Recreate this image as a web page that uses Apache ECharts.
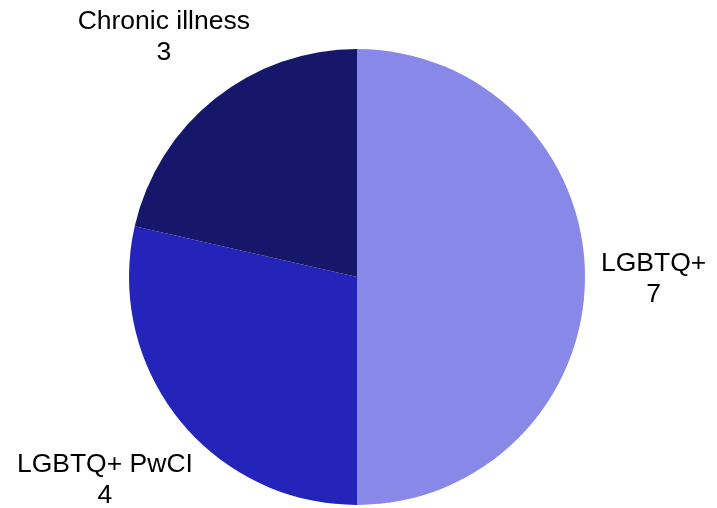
<!DOCTYPE html>
<html>
<head>
<meta charset="utf-8">
<script src="https://cdn.jsdelivr.net/npm/echarts@6/dist/echarts.min.js"></script>
<style>
  html, body { margin: 0; padding: 0; background: #fff; }
  #chart { width: 717px; height: 508px; }
</style>
</head>
<body>
<div id="chart"></div>
<script>
  const categories = ["LGBTQ+", "LGBTQ+ PwCI", "Chronic illness"];
  const values = [7, 4, 3];
  const colors = ["#8888E8", "#2424BB", "#16166A"];

  const center = [357, 277];
  const radius = 228;
  const labelGap = 16;

  const total = values.reduce((a, b) => a + b, 0);

  // mid angle of each slice, clockwise from 12 o'clock
  function midAngle(index) {
    let before = 0;
    for (let i = 0; i < index; i++) before += values[i];
    return (before + values[index] / 2) / total * Math.PI * 2;
  }

  const chart = echarts.init(document.getElementById("chart"));
  chart.setOption({
    animation: false,
    series: [{
      type: "pie",
      center: center,
      radius: radius,
      startAngle: 90,
      clockwise: true,
      data: categories.map((name, i) => ({
        name: name,
        value: values[i],
        itemStyle: { color: colors[i] }
      })),
      itemStyle: { borderWidth: 0 },
      label: {
        show: true,
        position: "outside",
        alignTo: "none",
        overflow: "none",
        formatter: "{b}\n{c}",
        color: "#000",
        fontFamily: "Liberation Sans, Arial, sans-serif",
        fontSize: 26.5,
        lineHeight: 31
      },
      labelLine: { show: false },
      labelLayout: function (params) {
        // label centre sits on the slice's mid ray, just clear of the pie
        const a = midAngle(params.dataIndex);
        const dx = Math.sin(a);
        const dy = -Math.cos(a);
        const w = params.labelRect.width;
        const h = params.labelRect.height;
        const d = radius + labelGap + Math.abs(dx) * w / 2 + Math.abs(dy) * h / 4;
        return {
          x: center[0] + dx * d,
          y: center[1] + dy * d + 2,
          align: "center",
          verticalAlign: "middle"
        };
      }
    }]
  });
</script>
</body>
</html>
